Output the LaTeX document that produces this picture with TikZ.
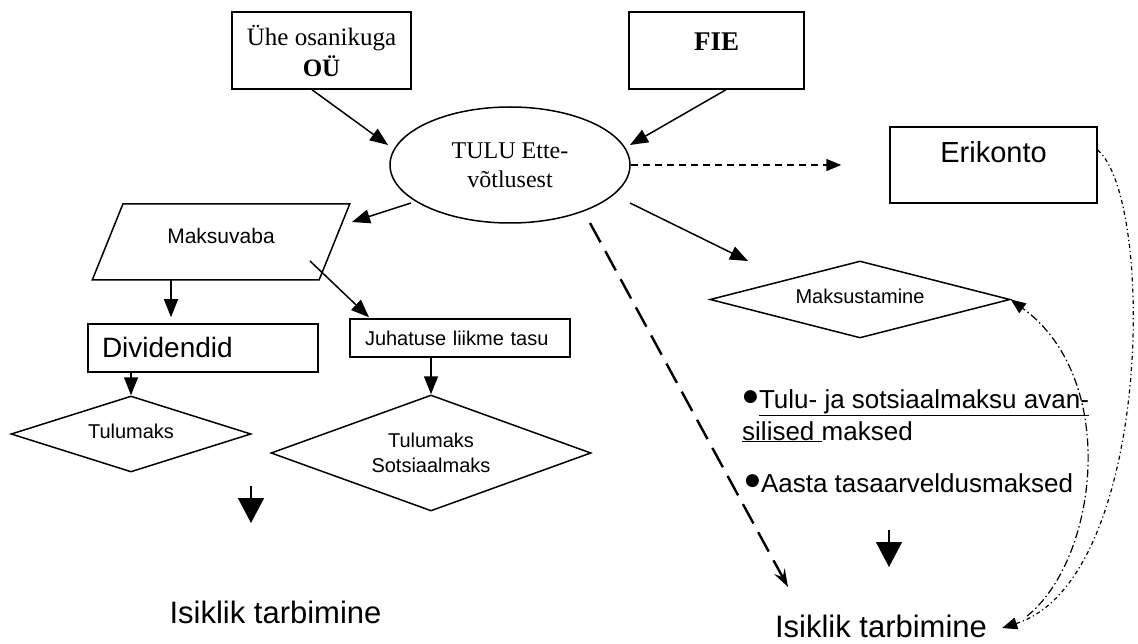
\documentclass[tikz,border=0pt]{standalone}
\usepackage{fontspec}
\setmainfont{Liberation Serif}
\setsansfont{Liberation Sans}
\newfontfamily\arialf{Liberation Sans}
\newfontfamily\djv{DejaVu Sans}
\usetikzlibrary{shapes.geometric,arrows.meta,calc}
\newcommand\bul{\raisebox{7pt}{\djv\fontsize{17}{17}\selectfont ●}\kern1pt}
\begin{document}
\begin{tikzpicture}[x=1pt,y=-1pt,
  box/.style={draw, line width=1.5pt, rectangle, inner sep=0pt},
  dia/.style={draw, line width=1.5pt, diamond, inner sep=0pt},
  arr/.style={line width=1.5pt, -{Triangle[length=18pt,width=14pt]}},
  bigarr/.style={line width=1.5pt, -{Triangle[length=25pt,width=26pt]}},
  dasharr/.style={line width=1.5pt, dash pattern=on 7pt off 5pt, -{Triangle[length=15pt,width=12pt]}},
  longdash/.style={line width=2.4pt, dash pattern=on 22pt off 10pt, -{Stealth[length=18pt,width=12pt,inset=7pt]}},
  ddarr/.style={line width=1.2pt, dash pattern=on 4pt off 3pt on 1.2pt off 3pt, -{Triangle[length=15pt,width=12pt]}},
  dcarr/.style={line width=1.2pt, dash pattern=on 8pt off 3pt on 1.5pt off 3pt, -{Triangle[length=15pt,width=12pt]}}
]
\useasboundingbox (0,0) rectangle (1138,644);

% top boxes
\node[box, minimum width=179pt, minimum height=77pt, align=center,
      font=\fontsize{25}{31}\selectfont] (oue) at (321.5,50.5) {Ühe osanikuga\\\textbf{OÜ}};
\node[box, minimum width=175pt, minimum height=77pt,
      font=\fontsize{27}{32}\selectfont\bfseries, text height=10pt, text depth=10pt] (fie) at (716.5,50.5) {FIE};

% ellipse
\node[draw, ellipse, line width=1.5pt, minimum width=240pt, minimum height=116pt, inner sep=0pt,
      align=center, font=\fontsize{24}{29}\selectfont] (ell) at (510,165) {TULU Ette-\\võtlusest};

% Erikonto
\node[box, minimum width=207pt, minimum height=76pt, font=\arialf\fontsize{29}{34}\selectfont,
      text height=9pt, text depth=13pt] (eri) at (993.5,165) {Erikonto};

% Maksuvaba
\node[draw, trapezium, trapezium left angle=50, trapezium right angle=130, trapezium stretches=true,
      minimum width=258pt, minimum height=76pt, line width=1.5pt, inner sep=0pt,
      font=\arialf\fontsize{21}{25}\selectfont, text height=12pt, text depth=8pt] (mv) at (221,242) {Maksuvaba};

% Dividendid
\node[box, minimum width=230pt, minimum height=48pt, font=\arialf\fontsize{28}{33}\selectfont,
      text width=202pt, align=left, text height=20pt, text depth=0pt] (div) at (203,348) {Dividendid};

% Juhatuse
\node[box, minimum width=220pt, minimum height=38pt, font=\arialf\fontsize{20}{24}\selectfont,
      text width=190pt, align=left, text height=17pt, text depth=3pt] (juh) at (460,338) {Juhatuse liikme tasu};

% diamonds
\node[dia, minimum width=240pt, minimum height=76pt, aspect=3, font=\arialf\fontsize{20}{25}\selectfont,
      text height=12pt, text depth=4pt] (tul) at (131,434) {Tulumaks};
\node[dia, minimum width=320pt, minimum height=116pt, aspect=2.75, align=center,
      font=\arialf\fontsize{20}{25}\selectfont] (ts) at (431,453) {Tulumaks\\Sotsiaalmaks};
\node[dia, minimum width=300pt, minimum height=77pt, aspect=3.9, font=\arialf\fontsize{20}{25}\selectfont,
      text height=12.5pt, text depth=3.5pt] (mst) at (860,299.5) {Maksustamine};

% bullet text
\node[anchor=base west, inner sep=0pt, font=\arialf\fontsize{26}{32}\selectfont] (bl1) at (743,408)
  {\bul\underline{Tulu- ja sotsiaalmaksu avan-}};
\node[anchor=base west, inner sep=0pt, font=\arialf\fontsize{26}{32}\selectfont] (bl2) at (742,440)
  {\underline{silised\ }maksed};
\node[anchor=base west, inner sep=0pt, font=\arialf\fontsize{26}{32}\selectfont] (bl3) at (745,492)
  {\bul Aasta tasaarveldusmaksed};

% Isiklik tarbimine
\node[anchor=base, inner sep=0pt, font=\arialf\fontsize{31}{37}\selectfont] (isik1) at (275.5,623) {Isiklik tarbimine};
\node[anchor=base, inner sep=0pt, font=\arialf\fontsize{31}{37}\selectfont] (isik2) at (881,637) {Isiklik tarbimine};

% free arrows
\coordinate (dl1) at (251,486); \coordinate (dl2) at (251,523);
\coordinate (dr1) at (889,530); \coordinate (dr2) at (889,567);
\draw[bigarr] (dl1) -- (dl2);
\draw[bigarr] (dr1) -- (dr2);

% connectors
\draw[arr] ($(oue.south)+(-9.5,0)$) -- ($(ell)+(-122,-20)$);
\draw[arr] ($(fie.south)+(9.5,0)$) -- ($(ell)+(120,-20)$);
\draw[dasharr] (ell.east) -- ($(eri.west)+(-48,0)$);
\draw[arr] ($(ell)+(-99,38)$) -- ($(mv)+(131,-20)$);
\draw[arr] ($(ell)+(120,38)$) -- ($(mst)+(-112,-38.5)$);
\draw[longdash] ($(ell)+(80,58)$) -- ($(isik2.base)+(-93,-50)$);
\draw[arr] ($(mv)+(-50,38)$) -- ($(div.north)+(-32,-6)$);
\draw[arr] ($(mv)+(89,19)$) -- ($(juh.north)+(-91,-1)$);
\draw[arr] (tul.north |- div.south) -- (tul.north);
\draw[arr] (ts.north |- juh.south) -- (ts.north);

% curves
\draw[ddarr] ($(eri.east)+(0,-15)$) .. controls ($(eri.east)+(58,35)$) and ($(isik2.base east)+(165,-57)$)
   .. ($(isik2.base east)+(15,-9)$);
\draw[dcarr] ($(isik2.base east)+(40,-21)$) .. controls ($(isik2.base east)+(110,-77)$) and ($(mst.east)+(110,80.5)$)
   .. (mst.east);
\end{tikzpicture}
\end{document}
